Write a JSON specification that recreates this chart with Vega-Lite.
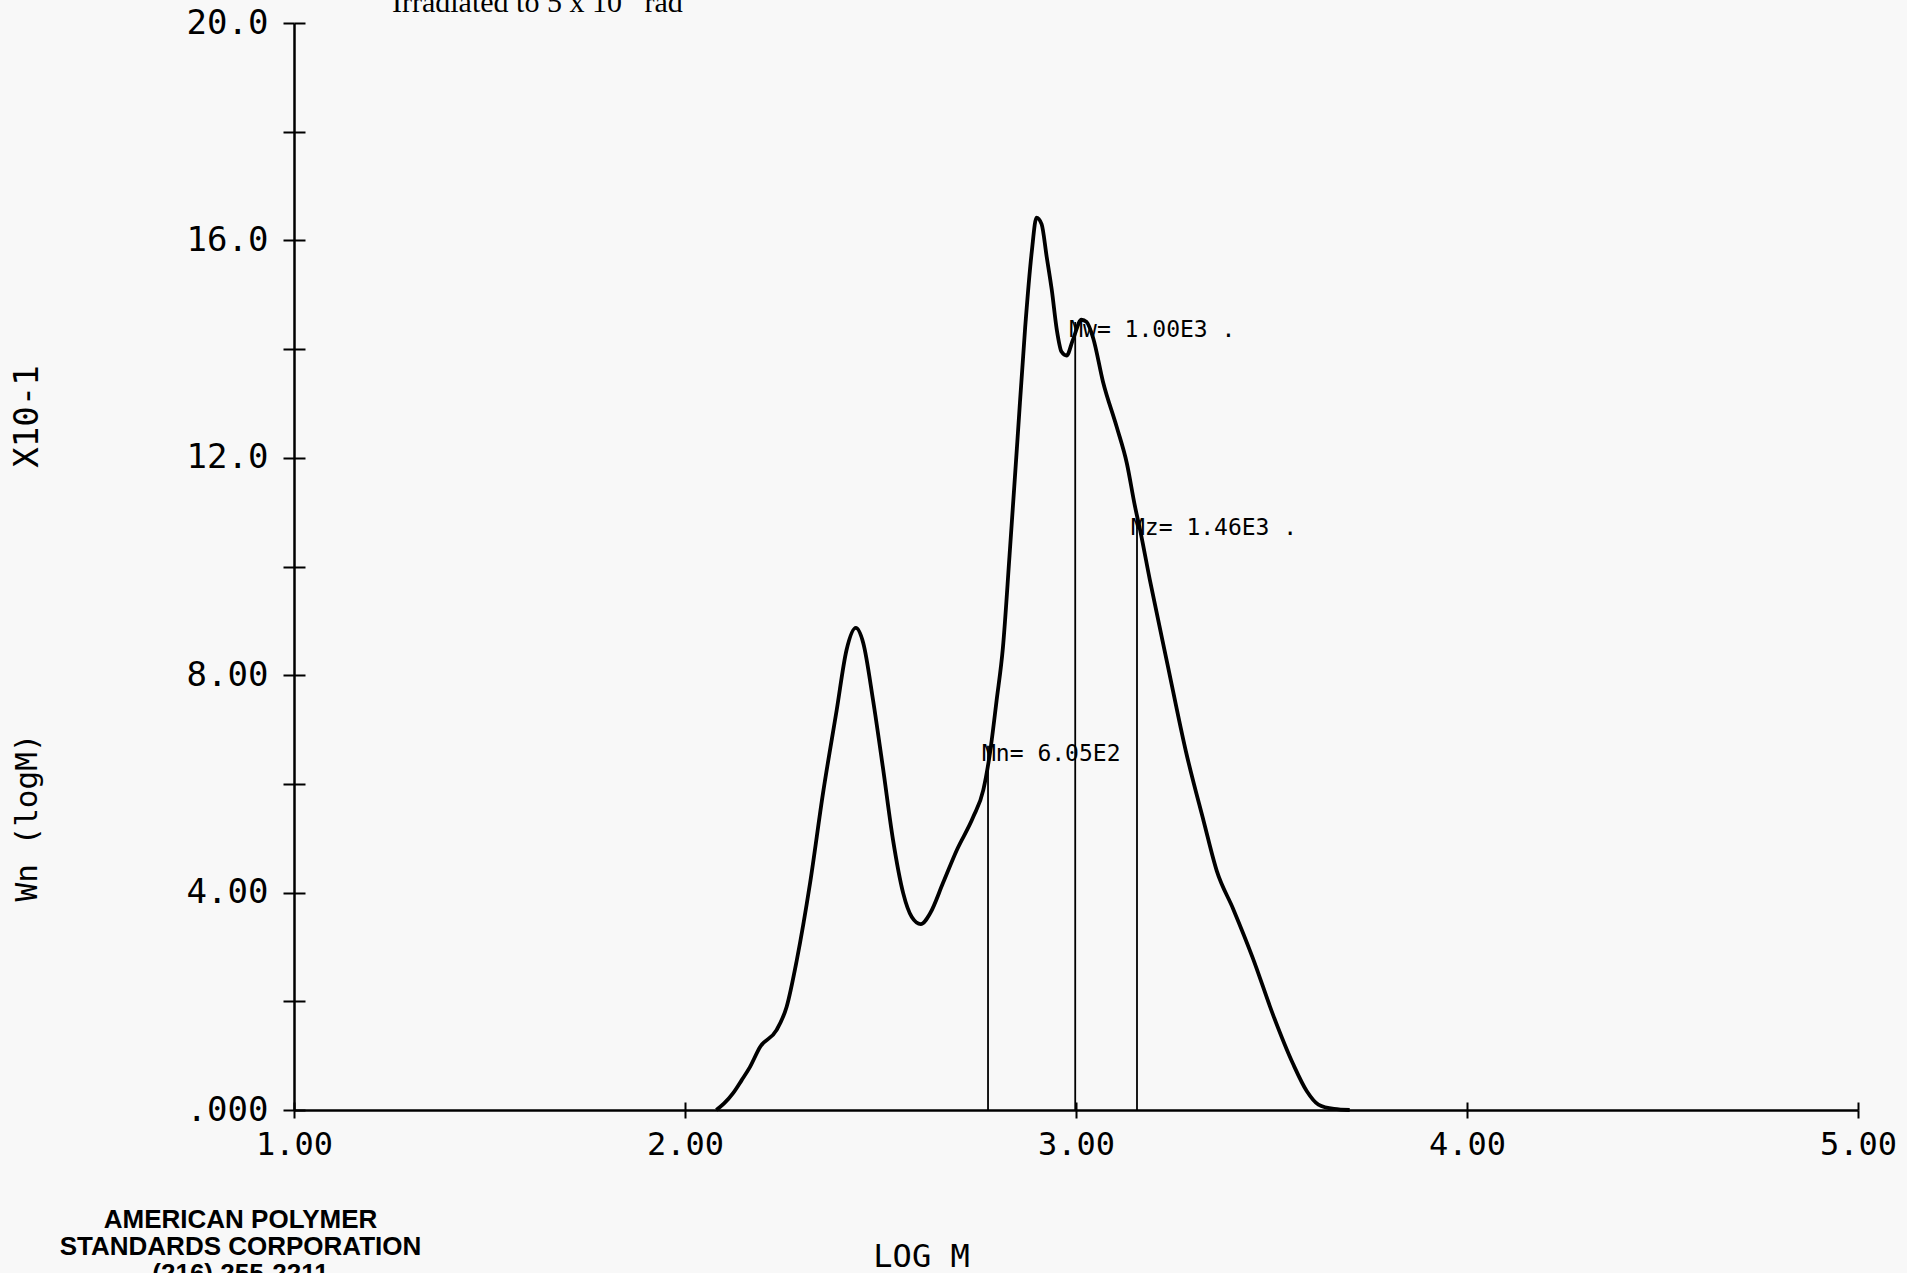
{
  "$schema": "https://vega.github.io/schema/vega-lite/v6.json",
  "width": 1564,
  "height": 1087,
  "autosize": {"type": "none"},
  "padding": {"left": 294, "top": 23, "right": 49, "bottom": 163},
  "background": "#f8f8f8",
  "title": {
    "text": "Irradiated to 5 x 10\u00a0\u00a0\u00a0rad",
    "anchor": "start",
    "frame": "group",
    "dx": 98,
    "dy": 36,
    "offset": 0,
    "font": "Liberation Serif",
    "fontSize": 30,
    "fontWeight": "normal",
    "baseline": "alphabetic",
    "color": "#000000"
  },
  "config": {
    "view": {"stroke": null},
    "axis": {"grid": false}
  },
  "datasets": {
    "curve": [
      {"logM": 2.08, "wn": 0.0},
      {"logM": 2.10, "wn": 0.12},
      {"logM": 2.123, "wn": 0.31},
      {"logM": 2.145, "wn": 0.55},
      {"logM": 2.166, "wn": 0.79},
      {"logM": 2.192, "wn": 1.16},
      {"logM": 2.234, "wn": 1.47},
      {"logM": 2.26, "wn": 1.9},
      {"logM": 2.286, "wn": 2.76},
      {"logM": 2.32, "wn": 4.18},
      {"logM": 2.353, "wn": 5.83},
      {"logM": 2.388, "wn": 7.36},
      {"logM": 2.413, "wn": 8.46},
      {"logM": 2.437, "wn": 8.87},
      {"logM": 2.456, "wn": 8.59},
      {"logM": 2.481, "wn": 7.54},
      {"logM": 2.506, "wn": 6.31},
      {"logM": 2.532, "wn": 4.97},
      {"logM": 2.558, "wn": 3.99},
      {"logM": 2.58, "wn": 3.55},
      {"logM": 2.603, "wn": 3.42},
      {"logM": 2.627, "wn": 3.62},
      {"logM": 2.66, "wn": 4.18},
      {"logM": 2.695, "wn": 4.78},
      {"logM": 2.737, "wn": 5.39},
      {"logM": 2.763, "wn": 5.89},
      {"logM": 2.78, "wn": 6.57},
      {"logM": 2.797, "wn": 7.54},
      {"logM": 2.813, "wn": 8.5},
      {"logM": 2.83, "wn": 10.2},
      {"logM": 2.85, "wn": 12.3},
      {"logM": 2.87, "wn": 14.4},
      {"logM": 2.887, "wn": 15.8},
      {"logM": 2.899, "wn": 16.42},
      {"logM": 2.912, "wn": 16.3},
      {"logM": 2.925, "wn": 15.7},
      {"logM": 2.938, "wn": 15.09},
      {"logM": 2.951, "wn": 14.35},
      {"logM": 2.963, "wn": 13.95},
      {"logM": 2.976, "wn": 13.88},
      {"logM": 2.992, "wn": 14.17},
      {"logM": 3.014, "wn": 14.54},
      {"logM": 3.027, "wn": 14.5},
      {"logM": 3.044, "wn": 14.2},
      {"logM": 3.069, "wn": 13.4},
      {"logM": 3.104, "wn": 12.57},
      {"logM": 3.13, "wn": 11.9},
      {"logM": 3.151, "wn": 11.1},
      {"logM": 3.164, "wn": 10.67},
      {"logM": 3.189, "wn": 9.75},
      {"logM": 3.234, "wn": 8.2},
      {"logM": 3.281, "wn": 6.6},
      {"logM": 3.327, "wn": 5.3},
      {"logM": 3.36, "wn": 4.4},
      {"logM": 3.402, "wn": 3.7},
      {"logM": 3.452, "wn": 2.8},
      {"logM": 3.504, "wn": 1.75},
      {"logM": 3.555, "wn": 0.85},
      {"logM": 3.59, "wn": 0.35},
      {"logM": 3.62, "wn": 0.1},
      {"logM": 3.66, "wn": 0.02},
      {"logM": 3.70, "wn": 0.0}
    ],
    "moments": [
      {"name": "Mn", "logM": 2.775, "top": 6.7, "label": "Mn= 6.05E2"},
      {"name": "Mw", "logM": 2.998, "top": 14.5, "label": "Mw= 1.00E3 ."},
      {"name": "Mz", "logM": 3.156, "top": 10.85, "label": "Mz= 1.46E3 ."}
    ]
  },
  "resolve": {"axis": {"x": "independent", "y": "independent"}},
  "layer": [
    {
      "data": {"name": "curve"},
      "mark": {"type": "line", "color": "#000000", "strokeWidth": 3.8, "interpolate": "monotone"},
      "encoding": {
        "x": {
          "field": "logM", "type": "quantitative",
          "scale": {"domain": [1, 5], "nice": false, "zero": false},
          "axis": {
            "orient": "bottom",
            "values": [1, 2, 3, 4, 5],
            "labelExpr": "format(datum.value, '.2f')",
            "labelFont": "DejaVu Sans Mono", "labelFontSize": 32, "labelColor": "#000000",
            "labelPadding": 11, "labelBaseline": "top",
            "labelFlush": false, "labelOverlap": false,
            "domainColor": "#000000", "domainWidth": 2.5,
            "tickColor": "#000000", "tickWidth": 2, "tickSize": 8,
            "title": "LOG M",
            "titleFont": "DejaVu Sans Mono", "titleFontSize": 32, "titleFontWeight": "normal", "titleColor": "#000000",
            "titleX": 627, "titleY": 146, "titleBaseline": "middle", "titleAlign": "center"
          }
        },
        "y": {
          "field": "wn", "type": "quantitative",
          "scale": {"domain": [0, 20], "nice": false, "zero": true},
          "axis": {
            "orient": "left",
            "values": [0, 2, 4, 6, 8, 10, 12, 14, 16, 18, 20],
            "labelExpr": "datum.value % 4 != 0 ? '' : (datum.value == 0 ? '.000' : (datum.value < 10 ? format(datum.value, '.2f') : format(datum.value, '.1f')))",
            "labelFont": "DejaVu Sans Mono", "labelFontSize": 34, "labelColor": "#000000",
            "labelPadding": 15, "labelBaseline": "middle",
            "labelFlush": false, "labelOverlap": false,
            "domainColor": "#000000", "domainWidth": 2.5,
            "tickColor": "#000000", "tickWidth": 2, "tickSize": 11,
            "title": "Wn  (logM)",
            "titleFont": "DejaVu Sans Mono", "titleFontSize": 31, "titleFontWeight": "normal", "titleColor": "#000000",
            "titleX": -267, "titleY": 794, "titleBaseline": "middle", "titleAlign": "center", "titleAngle": 270
          }
        }
      }
    },
    {
      "data": {"name": "moments"},
      "mark": {"type": "rule", "color": "#000000", "strokeWidth": 1.8},
      "encoding": {
        "x": {
          "field": "logM", "type": "quantitative",
          "axis": {
            "orient": "bottom",
            "values": [1, 2, 3, 4, 5],
            "labels": false, "domain": false,
            "tickColor": "#000000", "tickWidth": 2, "tickSize": -8,
            "title": ["AMERICAN POLYMER", "STANDARDS CORPORATION", "(216) 255-2211"],
            "titleFont": "Liberation Sans", "titleFontSize": 26, "titleFontWeight": "bold", "titleColor": "#000000",
            "titleLineHeight": 27,
            "titleX": -54, "titleY": 96, "titleBaseline": "top", "titleAlign": "center"
          }
        },
        "y": {
          "field": "top", "type": "quantitative",
          "axis": {
            "orient": "left",
            "values": [0, 2, 4, 6, 8, 10, 12, 14, 16, 18, 20],
            "labels": false, "domain": false,
            "tickColor": "#000000", "tickWidth": 2, "tickSize": -11,
            "title": "X10-1",
            "titleFont": "DejaVu Sans Mono", "titleFontSize": 34, "titleFontWeight": "normal", "titleColor": "#000000",
            "titleX": -267, "titleY": 393, "titleBaseline": "middle", "titleAlign": "center", "titleAngle": 270
          }
        },
        "y2": {"datum": 0}
      }
    },
    {
      "data": {"name": "moments"},
      "mark": {"type": "text", "align": "left", "baseline": "middle", "dx": -6, "dy": 8, "font": "DejaVu Sans Mono", "fontSize": 23, "color": "#000000"},
      "encoding": {
        "x": {"field": "logM", "type": "quantitative", "axis": null},
        "y": {"field": "top", "type": "quantitative", "axis": null},
        "text": {"field": "label"}
      }
    }
  ]
}
